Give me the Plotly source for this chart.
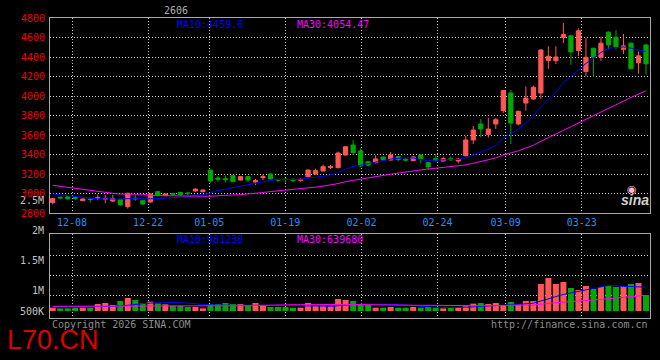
import plotly.graph_objects as go
import pandas as pd

# ---- trading calendar (Dec 3 2025 .. Apr 3 2026, exchange holidays removed)
holidays = ["2026-01-01", "2026-01-02", "2026-02-16", "2026-02-17", "2026-02-18",
            "2026-02-19", "2026-02-20", "2026-02-23"]
days = [d for d in pd.bdate_range("2025-12-03", "2026-04-03")
        if d.strftime("%Y-%m-%d") not in holidays]
dates = [d.strftime("%m-%d") for d in days]

# ---- OHLC
open_ = [2906, 2962, 2966, 2960, 2926, 2944, 2952, 2942, 2923, 2940,
         2865, 2952, 2926, 2913, 3019, 2978, 2998, 3012, 3005, 3025,
         3019, 3241, 3159, 3152, 3183, 3138, 3173, 3118, 3162, 3200,
         3145, 3148, 3145, 3135, 3173, 3200, 3231, 3265, 3265, 3395,
         3497, 3436, 3326, 3316, 3374, 3343, 3378, 3350, 3337, 3395,
         3316, 3357, 3333, 3357, 3333, 3388, 3549, 3713, 3607, 3713,
         3850, 4031, 3713, 3928, 3969, 4031, 4362, 4362, 4600, 4617,
         4465, 4251, 4490, 4398, 4655, 4603, 4480, 4542, 4340, 4524]
high = [2952, 2967, 2970, 2963, 2948, 2948, 2990, 2985, 2985, 2945,
        3008, 2985, 2930, 3000, 3022, 2998, 3008, 3015, 3019, 3053,
        3040, 3243, 3180, 3183, 3186, 3176, 3176, 3149, 3197, 3207,
        3148, 3155, 3155, 3155, 3245, 3255, 3296, 3292, 3430, 3485,
        3549, 3463, 3330, 3391, 3378, 3426, 3382, 3360, 3380, 3400,
        3320, 3405, 3378, 3378, 3357, 3590, 3692, 3764, 3778, 3774,
        4058, 4063, 3850, 4099, 4106, 4478, 4511, 4511, 4750, 4628,
        4695, 4593, 4495, 4606, 4662, 4675, 4637, 4548, 4456, 4531]
low = [2889, 2940, 2938, 2933, 2920, 2906, 2930, 2899, 2914, 2875,
       2845, 2925, 2885, 2905, 2975, 2975, 2975, 2982, 2985, 3019,
       3012, 3111, 3121, 3111, 3118, 3135, 3118, 3087, 3138, 3145,
       3115, 3111, 3115, 3121, 3165, 3196, 3228, 3251, 3258, 3390,
       3395, 3275, 3275, 3310, 3340, 3340, 3330, 3326, 3330, 3309,
       3241, 3326, 3330, 3333, 3309, 3380, 3508, 3576, 3573, 3661,
       3826, 3508, 3700, 3850, 3962, 3970, 4278, 4328, 4545, 4320,
       4408, 4205, 4197, 4360, 4477, 4478, 4431, 4278, 4230, 4219]
close = [2950, 2955, 2945, 2950, 2944, 2938, 2957, 2948, 2950, 2884,
         3002, 2945, 2892, 2995, 2978, 2995, 2994, 2988, 3000, 3046,
         3036, 3128, 3146, 3142, 3121, 3173, 3138, 3132, 3172, 3149,
         3138, 3143, 3135, 3145, 3241, 3234, 3275, 3275, 3415, 3480,
         3419, 3282, 3292, 3354, 3343, 3395, 3350, 3343, 3374, 3354,
         3272, 3340, 3357, 3347, 3354, 3549, 3651, 3661, 3661, 3757,
         4055, 3723, 3843, 3979, 4089, 4472, 4408, 4400, 4630, 4453,
         4668, 4397, 4397, 4542, 4524, 4504, 4514, 4279, 4412, 4330]
volume = [138000, 110000, 110000, 138000, 138000, 138000, 290000, 331000, 248000, 414000,
          538000, 455000, 331000, 386000, 317000, 276000, 221000, 221000, 166000, 166000,
          110000, 290000, 290000, 331000, 290000, 290000, 221000, 331000, 221000, 166000,
          166000, 166000, 138000, 138000, 331000, 207000, 221000, 221000, 497000, 455000,
          414000, 248000, 248000, 138000, 138000, 166000, 138000, 138000, 166000, 138000,
          166000, 138000, 110000, 138000, 166000, 248000, 304000, 331000, 290000, 331000,
          248000, 373000, 290000, 414000, 414000, 1118000, 1366000, 1118000, 1201000, 952000,
          869000, 1035000, 911000, 994000, 1035000, 994000, 1035000, 1118000, 1159000, 662000]

# moving averages: early values (which depend on days before the window)
ma10_early = [2995, 2985, 2975, 2968, 2958, 2952, 2946, 2944, 2941]
ma30_early = [3084, 3073, 3063, 3053, 3043, 3032, 3022, 3012, 3002, 2995,
              2995, 2994, 2992, 2980, 2978, 2977, 2976, 2975, 2974, 2973,
              2972, 2972, 2974, 2982, 2985, 2988, 2994, 2998, 3010]
vma10_early = [166000, 166000, 166000, 166000, 166000, 166000, 170000, 180000, 190000]
vma30_early = [193000, 193000, 193000, 193000, 193000, 193000, 193000, 193000, 193000, 195000,
               195000, 195000, 197000, 197000, 197000, 197000, 197000, 197000, 199000, 199000,
               199000, 201000, 203000, 207000, 211000, 215000, 221000, 229000, 240000]


def rolling(vals, n, early):
    out = list(early)
    for i in range(len(early), len(vals)):
        out.append(sum(vals[i - n + 1:i + 1]) / n)
    return out


ma10 = rolling(close, 10, ma10_early)
ma30 = rolling(close, 30, ma30_early)
vma10 = rolling(volume, 10, vma10_early)
vma30 = rolling(volume, 30, vma30_early)

tick_labels = ["12-08", "12-22", "01-05", "01-19", "02-02", "02-24", "03-09", "03-23"]
tick_pos = [2.57, 12.71, 20.84, 30.97, 41.11, 51.24, 60.31, 70.44]
price_ticks = [2800, 3000, 3200, 3400, 3600, 3800, 4000, 4200, 4400, 4600, 4800]

UP = "#ff5656"
DOWN = "#00a800"
GRID = "#c8c8c8"
FRAME = "#a8a8a8"
MONO = "DejaVu Sans Mono"

x = list(range(len(close)))
vol_colors = [UP if c >= o else DOWN for o, c in zip(open_, close)]

fig = go.Figure()
fig.add_trace(go.Candlestick(
    x=x, open=open_, high=high, low=low, close=close, xaxis="x", yaxis="y",
    increasing=dict(line=dict(color=UP, width=1), fillcolor=UP),
    decreasing=dict(line=dict(color=DOWN, width=1), fillcolor=DOWN),
    whiskerwidth=0, hoverinfo="skip"))
fig.add_trace(go.Scatter(x=x, y=ma10, mode="lines", line=dict(color="#0000ff", width=1),
                         xaxis="x", yaxis="y", hoverinfo="skip"))
fig.add_trace(go.Scatter(x=x, y=ma30, mode="lines", line=dict(color="#ff00ff", width=1),
                         xaxis="x", yaxis="y", hoverinfo="skip"))
fig.add_trace(go.Bar(x=x, y=volume, marker=dict(color=vol_colors, line=dict(width=0)),
                     width=0.8, xaxis="x2", yaxis="y2", hoverinfo="skip"))
fig.add_trace(go.Scatter(x=x, y=vma10, mode="lines", line=dict(color="#0000ff", width=1),
                         xaxis="x2", yaxis="y2", hoverinfo="skip"))
fig.add_trace(go.Scatter(x=x, y=vma30, mode="lines", line=dict(color="#ff00ff", width=1),
                         xaxis="x2", yaxis="y2", hoverinfo="skip"))

xr = [-0.36, 79.53]
common_x = dict(range=xr, tickvals=tick_pos, showgrid=True, gridcolor=GRID,
                griddash="1px,2px", gridwidth=1, zeroline=False,
                showline=True, mirror=True, linecolor=FRAME, linewidth=1)

fig.update_layout(
    width=660, height=360,
    margin=dict(l=50, r=10, t=18, b=42),
    paper_bgcolor="#000000", plot_bgcolor="#000000",
    showlegend=False, boxgap=0.2, bargap=0.2, hovermode=False,
    font=dict(family=MONO, size=10, color="#c0c0c0"),
    xaxis=dict(**common_x, anchor="y", ticktext=tick_labels, ticks="",
               tickfont=dict(family=MONO, size=10, color="#1e90ff"),
               rangeslider=dict(visible=False)),
    xaxis2=dict(**common_x, anchor="y2", showticklabels=False, ticks=""),
    yaxis=dict(domain=[0.35, 1.0], range=[2800, 4800], tickvals=price_ticks,
               showgrid=True, gridcolor=GRID, griddash="1px,2px", zeroline=False,
               showline=True, mirror=True, linecolor=FRAME, linewidth=1,
               ticks="outside", ticklen=2, tickcolor="#000000",
               tickfont=dict(family=MONO, size=10, color="#f00000")),
    yaxis2=dict(domain=[0.0, 0.28], range=[-290000, 3188000],
                tickvals=[662000, 1490000, 2318000], showticklabels=False, ticks="",
                showgrid=True, gridcolor=GRID, griddash="1px,2px", zeroline=False,
                showline=True, mirror=True, linecolor=FRAME, linewidth=1),
)

ann = []
def txt(t, xp, yp, color, xanchor="left", size=10, family=MONO, **kw):
    ann.append(dict(text=t, x=xp, y=yp, xref="paper", yref="paper", xanchor=xanchor,
                    yanchor="middle", showarrow=False,
                    font=dict(family=family, size=size, color=color, **kw)))

for lab, ypx in [("2M", 230.8), ("1.5M", 260.0), ("1M", 290.7), ("500K", 311.0)]:
    txt(lab, -4 / 600, (318 - ypx) / 300, "#c0c0c0", xanchor="right")
txt("2.5M", -4 / 600, (318 - 200) / 300, "#c0c0c0", xanchor="right")
txt("MA10:4459.6", (175 - 50) / 600, (318 - 24) / 300, "#0000ff")
txt("MA30:4054.47", (295 - 50) / 600, (318 - 24) / 300, "#ff00ff")
txt("MA10:981238", (175 - 50) / 600, (318 - 239) / 300, "#0000ff")
txt("MA30:639680", (295 - 50) / 600, (318 - 239) / 300, "#ff00ff")
txt("2606", (176 - 50) / 600, (318 - 10) / 300, "#b0b0b0", xanchor="center")
txt("Copyright 2026 SINA.COM", 0, (318 - 324) / 300, "#8c8c8c")
txt("http://finance.sina.com.cn", 1.0, (318 - 324) / 300, "#8c8c8c", xanchor="right")
txt("L70.CN", (5 - 50) / 600, (318 - 340) / 300, "#dd0000", size=27,
    family="Liberation Sans, Arial, sans-serif")
txt("sina", (651 - 50) / 600, (318 - 200) / 300, "#d0d0d0", xanchor="right", size=14,
    family="Liberation Sans, Arial, sans-serif", style="italic", weight="bold")
txt("◉", (632 - 50) / 600, (318 - 189) / 300, "#ffb8c8", xanchor="center", size=11,
    family="DejaVu Sans")
fig.update_layout(annotations=ann)

fig.write_html("out.html", config={"displayModeBar": False})

# remove the browser's default page margin so the figure sits at (0, 0)
with open("out.html", encoding="utf-8") as f:
    html = f.read()
html = html.replace("<head>", "<head><style>html,body{margin:0;padding:0;background:#000;}</style>", 1)
with open("out.html", "w", encoding="utf-8") as f:
    f.write(html)
